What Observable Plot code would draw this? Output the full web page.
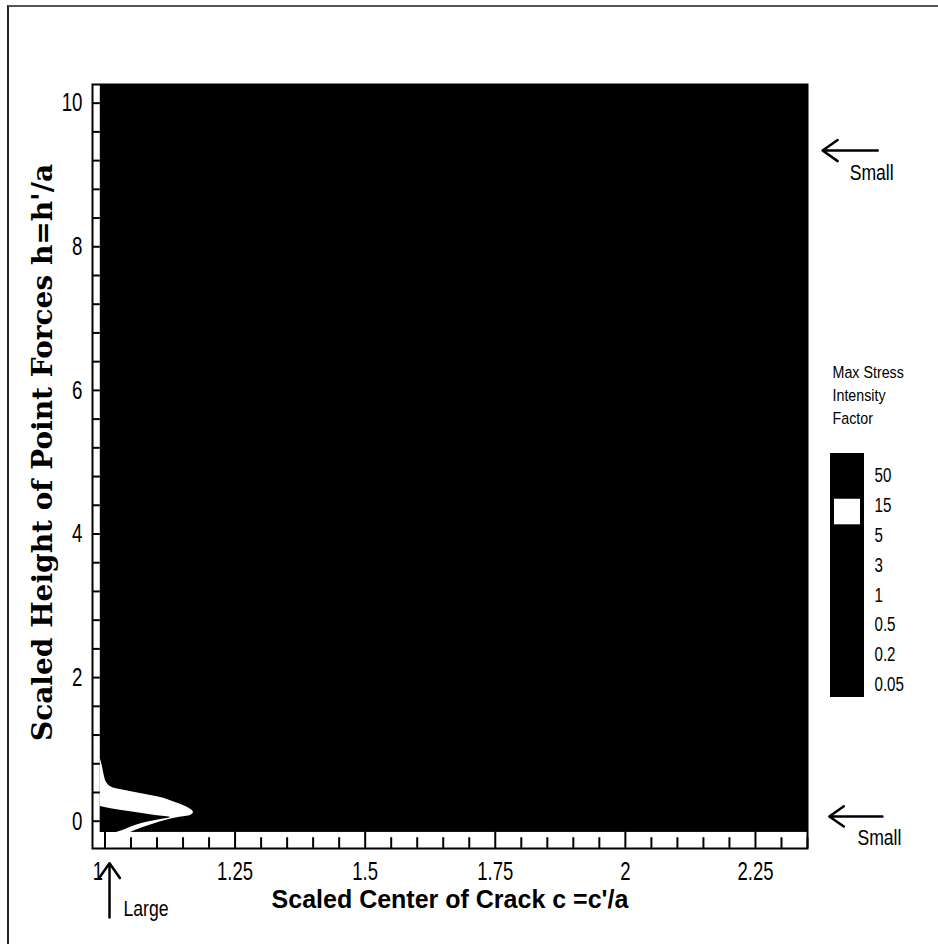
<!DOCTYPE html>
<html>
<head>
<meta charset="utf-8">
<script src="https://cdn.jsdelivr.net/npm/d3@7"></script>
<script src="https://cdn.jsdelivr.net/npm/@observablehq/plot@0.6"></script>
<style>
  body { margin: 0; background: #fff; }
  #page { position: relative; width: 938px; height: 944px; overflow: hidden; background: #fff; }
  #sheet { position: absolute; left: 7px; top: 5px; right: 0; bottom: -4px; border-top: 2px solid #555; border-left: 2px solid #222; }
  #chart { position: absolute; left: 0; top: 0; }
  #legend { position: absolute; left: 826px; top: 355px; }
</style>
</head>
<body>
<div id="page"><div id="sheet"></div><div id="chart"></div><div id="legend"></div></div>
<script>
// Frame and field extents: c = c'/a (scaled crack centre), h = h'/a (scaled force height)
const cFrame = [0.976, 2.35];
const hFrame = [-0.38, 10.26];
const cField = [0.991, 2.35];
const hField = [-0.156, 10.25];

// Axis ticks
const cTicks = [1, 1.25, 1.5, 1.75, 2, 2.25];
const cMinorTicks = [1, 1.05, 1.1, 1.15, 1.2, 1.3, 1.35, 1.4, 1.45, 1.55, 1.6, 1.65, 1.7, 1.8, 1.85, 1.9, 1.95, 2.05, 2.1, 2.15, 2.2, 2.3, 2.35];
const hTicks = [0, 2, 4, 6, 8, 10];
const hMinorTicks = [0, 0.4, 0.8, 1.2, 1.6, 2, 2.4, 2.8, 3.2, 3.6, 4, 4.4, 4.8, 5.2, 5.6, 6, 6.4, 6.8, 7.2, 7.6, 8, 8.4, 8.8, 9.2, 9.6, 10];

// Contour K = 5 (outer edge of the 5–15 band), traced from the left edge downwards
const k5H = [0.875, 0.763, 0.624, 0.540, 0.471, 0.429, 0.373, 0.331, 0.276, 0.206, 0.123, 0.081, 0.053, 0.011, -0.045, -0.100, -0.156];
const k5C = [0.991, 0.995, 0.999, 1.003, 1.014, 1.039, 1.078, 1.107, 1.130, 1.155, 1.170, 1.164, 1.141, 1.116, 1.091, 1.068, 1.049];

// Contour K = 15 (core of the singular region next to c = 1, h = 0)
const k15H = [0.206, 0.164, 0.123, 0.081, 0.053, 0.025, -0.017, -0.072, -0.128, -0.156];
const k15C = [0.991, 1.020, 1.059, 1.097, 1.126, 1.107, 1.078, 1.053, 1.034, 1.022];

// Legend levels (top to bottom) and band colours (band above 50 first)
const legendLevels = [50, 15, 5, 3, 1, 0.5, 0.2, 0.05];
const bandColors = ["black", "black", "white", "black", "black", "black", "black", "black", "black"];

// Annotations
const arrowSpecs = [
  {c1: 2.485, h1: 9.34, c2: 2.379, h2: 9.34},
  {c1: 2.494, h1: 0.067, c2: 2.392, h2: 0.067},
  {c1: 1.0087, h1: -1.34, c2: 1.0087, h2: -0.585}
];
const noteSpecs = [
  {text: "Small", c: 2.431, h: 9.03},
  {text: "Small", c: 2.446, h: -0.24},
  {text: "Large", c: 1.0356, h: -1.22}
];

const xTitle = "Scaled Center of Crack c =c'/a";
const yTitle = "Scaled Height of Point Forces h=h'/a";
const legendTitle = "Max Stress\nIntensity\nFactor";

const SANS = "'Liberation Sans', Arial, sans-serif";
const SERIF = "'DejaVu Serif', serif";

// horizontal squeeze per text group, for the condensed lettering
const squeeze = {
  "y tick labels": 0.72,
  "x tick labels": 0.74,
  "notes": 0.8,
  "legend labels": 0.72,
  "legend title": 0.84
};
function condense(svg) {
  for (const [name, k] of Object.entries(squeeze)) {
    svg.querySelectorAll(`g[aria-description="${name}"] text`).forEach(t => {
      t.setAttribute("transform", `${t.getAttribute("transform") || ""} scale(${k},1)`);
    });
  }
  return svg;
}

const field = [{c1: cField[0], c2: cField[1], h1: hField[0], h2: hField[1]}];
const k5 = k5H.map((h, i) => ({h, c: k5C[i]}));
const k15 = k15H.map((h, i) => ({h, c: k15C[i]}));

const chart = Plot.plot({
  width: 938,
  height: 944,
  marginLeft: 92,
  marginRight: 131,
  marginTop: 84,
  marginBottom: 96,
  x: {domain: cFrame, axis: null},
  y: {domain: hFrame, axis: null},
  style: {background: "transparent", overflow: "visible"},
  marks: [
    // filled contour bands
    Plot.rect(field, {x1: "c1", x2: "c2", y1: "h1", y2: "h2", fill: "black"}),
    Plot.areaX(k5, {y: "h", x1: cField[0], x2: "c", fill: "white", curve: "monotone-y"}),
    Plot.areaX(k15, {y: "h", x1: cField[0], x2: "c", fill: "black", curve: "monotone-y"}),
    // inward ticks along the left and bottom edges
    Plot.ruleY(hMinorTicks, {x1: cFrame[0], x2: cField[0], stroke: "black", strokeWidth: 2}),
    Plot.ruleX(cMinorTicks, {y1: hFrame[0], y2: hFrame[0] + 0.15, stroke: "black", strokeWidth: 2}),
    Plot.ruleX(cTicks, {y1: hFrame[0], y2: hField[0], stroke: "black", strokeWidth: 2}),
    Plot.frame({stroke: "black", strokeWidth: 2}),
    // tick labels
    Plot.text(hTicks, {y: d => d, frameAnchor: "left", dx: -10, textAnchor: "end", lineAnchor: "middle",
      text: d => String(d), fontFamily: SANS, fontSize: 26, fill: "black", ariaDescription: "y tick labels"}),
    Plot.text(cTicks.slice(1), {x: d => d, frameAnchor: "bottom", dy: 23, textAnchor: "middle", lineAnchor: "middle",
      text: d => String(d), fontFamily: SANS, fontSize: 25, fill: "black", ariaDescription: "x tick labels"}),
    Plot.text(cTicks.slice(0, 1), {x: d => d, frameAnchor: "bottom", dy: 23, dx: -7, textAnchor: "middle", lineAnchor: "middle",
      text: d => String(d), fontFamily: SANS, fontSize: 25, fill: "black", ariaDescription: "x tick labels"}),
    // axis titles
    Plot.text([xTitle], {frameAnchor: "bottom", dy: 51, textAnchor: "middle", lineAnchor: "middle",
      fontFamily: SANS, fontWeight: "bold", fontSize: 25, fill: "black"}),
    Plot.text([yTitle], {frameAnchor: "left", dx: -49, dy: -14, rotate: -90, textAnchor: "middle", lineAnchor: "middle",
      fontFamily: SERIF, fontWeight: "bold", fontSize: 28, fill: "black"}),
    // annotations
    Plot.arrow(arrowSpecs, {x1: "c1", y1: "h1", x2: "c2", y2: "h2", stroke: "black", strokeWidth: 2.5,
      headLength: 18, headAngle: 70}),
    Plot.text(noteSpecs, {x: "c", y: "h", text: "text", textAnchor: "start", fontFamily: SANS, fontSize: 22,
      fill: "black", ariaDescription: "notes"})
  ]
});
document.getElementById("chart").append(condense(chart));

const legendBands = bandColors.map((color, i) => ({
  color,
  top: i === 0 ? -0.4 : i - 1,
  bottom: i === bandColors.length - 1 ? 7.65 : i
}));

const legend = Plot.plot({
  width: 112,
  height: 350,
  margin: 0,
  x: {domain: [0, 1], range: [6, 36], axis: null},
  y: {domain: [-0.4, 7.65], range: [100, 340], axis: null},
  color: {type: "identity"},
  style: {background: "transparent", overflow: "visible"},
  marks: [
    Plot.rect(legendBands, {x1: 0, x2: 1, y1: "top", y2: "bottom", fill: "color", stroke: "black", strokeWidth: 4}),
    Plot.text(legendLevels, {x: 1, y: (d, i) => i, dx: 12, text: d => String(d), textAnchor: "start",
      lineAnchor: "top", fontFamily: SANS, fontSize: 21, fill: "black", ariaDescription: "legend labels"}),
    Plot.text([legendTitle], {frameAnchor: "top-left", dx: 6, dy: 6, lineAnchor: "top", textAnchor: "start",
      lineHeight: 1.35, fontFamily: SANS, fontSize: 17, fill: "black", ariaDescription: "legend title"})
  ]
});
document.getElementById("legend").append(condense(legend));
</script>
</body>
</html>
